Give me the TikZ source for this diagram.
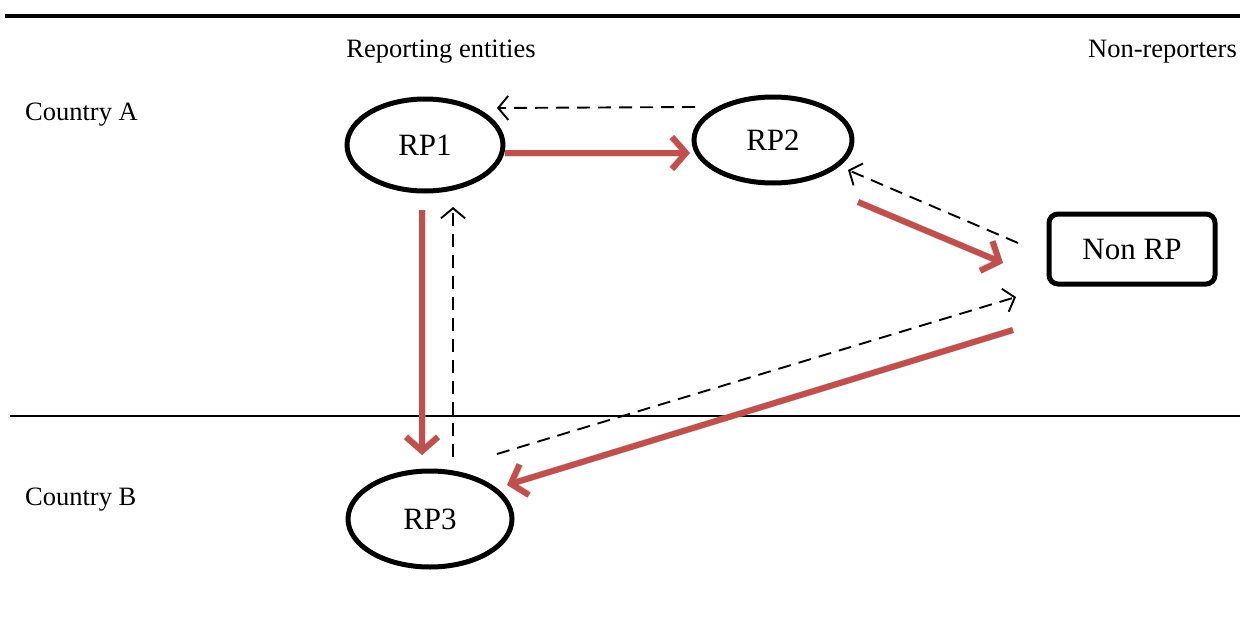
\documentclass[tikz,border=0pt]{standalone}
\usepackage{fontspec}
\setmainfont{Liberation Serif}
\usetikzlibrary{arrows.meta,shapes.geometric}
\definecolor{redarrow}{RGB}{192,80,77}
\tikzset{
  ent/.style={draw=black, line width=5pt, ellipse, minimum width=156pt, minimum height=92pt, inner sep=0pt, font=\fontsize{31}{36}\selectfont},
  nonrp/.style={draw=black, line width=5pt, rounded corners=9pt, minimum width=166pt, minimum height=70pt, inner sep=0pt, font=\fontsize{31}{36}\selectfont},
  lbl/.style={font=\fontsize{26.5}{30}\selectfont, inner sep=0pt},
  flow/.style={draw=redarrow, line width=6pt, -{Straight Barb[length=14pt, width=32pt, line width=6pt]}},
  shadowflow/.style={draw=black!30, opacity=0.45, line width=7pt, -{Straight Barb[length=14pt, width=32pt, line width=7pt]}},
  back/.style={draw=black, line width=1.9pt, dash pattern=on 13pt off 8pt, -{Straight Barb[length=10pt, width=24pt, line width=1.9pt]}}
}
\begin{document}
\begin{tikzpicture}[x=1pt, y=-1pt]
\useasboundingbox (0,0) rectangle (1240,632);
% rules
\draw[line width=3.5pt] (5,16) -- (1240,16);
\draw[line width=1.6pt] (10,416) -- (1240,416);
% labels
\node[lbl] (hrep) at (441,52) {Reporting entities};
\node[lbl, anchor=east] (hnon) at (1237,52) {Non-reporters};
\node[lbl, anchor=west] (ca) at (25,115) {Country A};
\node[lbl, anchor=west] (cb) at (25,500) {Country B};
% entities
\node[ent] (rp1) at (425,145) {RP1};
\node[ent, minimum width=158pt, minimum height=86pt] (rp2) at (773,140) {RP2};
\node[ent, minimum width=164pt, minimum height=96pt] (rp3) at (430,519) {RP3};
\node[nonrp] (nrp) at (1132,249) {Non RP};
% connector end points
\coordinate (a1s) at (695,107); \coordinate (a1e) at (497,108);
\coordinate (f1s) at (505,153); \coordinate (f1e) at (690,153);
\coordinate (a2s) at (1018,243); \coordinate (a2e) at (848,170);
\coordinate (f2s) at (858,202); \coordinate (f2e) at (1003,263);
\coordinate (a3s) at (497,454); \coordinate (a3e) at (1016,297);
\coordinate (f3s) at (1013,330); \coordinate (f3e) at (507,485);
\coordinate (f4s) at (422,210); \coordinate (f4e) at (422,455);
\coordinate (a4s) at (453,457); \coordinate (a4e) at (453,207);
% shadows of flows
\begin{scope}[shift={(2,3)}]
\draw[shadowflow] (f1s) -- (f1e);
\draw[shadowflow] (f2s) -- (f2e);
\draw[shadowflow] (f3s) -- (f3e);
\draw[shadowflow] (f4s) -- (f4e);
\end{scope}
% flows
\draw[flow] (f1s) -- (f1e);
\draw[flow] (f2s) -- (f2e);
\draw[flow] (f3s) -- (f3e);
\draw[flow] (f4s) -- (f4e);
% dashed back arrows
\draw[back] (a1s) -- (a1e);
\draw[back] (a2s) -- (a2e);
\draw[back] (a3s) -- (a3e);
\draw[back] (a4s) -- (a4e);
\end{tikzpicture}
\end{document}
